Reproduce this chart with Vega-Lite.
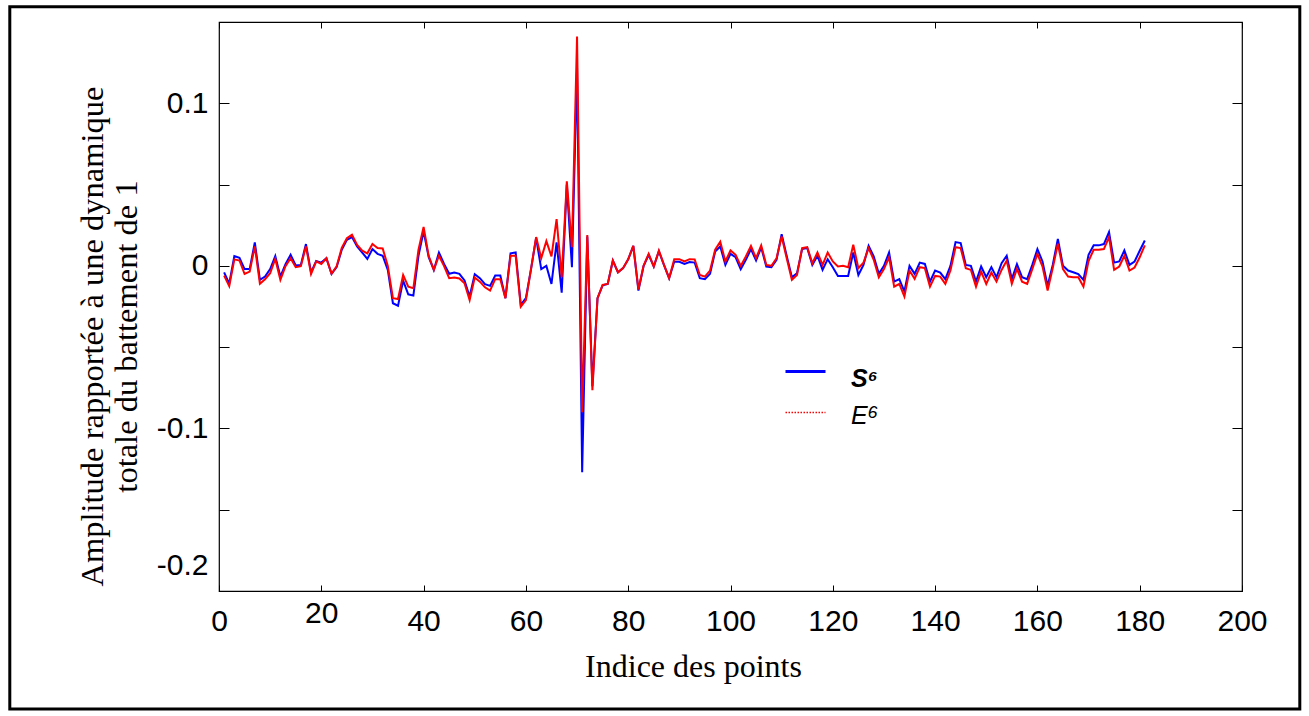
{
  "$schema": "https://vega.github.io/schema/vega-lite/v6.json",
  "width": 1023,
  "height": 569,
  "autosize": {"type": "none"},
  "padding": {"left": 219, "top": 22, "right": 67, "bottom": 125},
  "background": "white",
  "config": {"view": {"stroke": "black", "strokeWidth": 1.2}, "font": "Liberation Sans"},
  "data": {"values": [
    {"i":1,"S":-0.004,"E":-0.006},{"i":2,"S":-0.011,"E":-0.0125},{"i":3,"S":0.006,"E":0.004},{"i":4,"S":0.005,"E":0.0033},{"i":5,"S":-0.002,"E":-0.005},
    {"i":6,"S":-0.002,"E":-0.0035},{"i":7,"S":0.0144,"E":0.012},{"i":8,"S":-0.0086,"E":-0.011},{"i":9,"S":-0.0066,"E":-0.0082},{"i":10,"S":-0.002,"E":-0.0045},
    {"i":11,"S":0.006,"E":0.0042},{"i":12,"S":-0.0066,"E":-0.0086},{"i":13,"S":0.001,"E":-0.0002},{"i":14,"S":0.0068,"E":0.0047},{"i":15,"S":0.0002,"E":-0.0008},
    {"i":16,"S":0.0006,"E":-0.0002},{"i":17,"S":0.0134,"E":0.012},{"i":18,"S":-0.004,"E":-0.005},{"i":19,"S":0.003,"E":0.0027},{"i":20,"S":0.002,"E":0.0012},
    {"i":21,"S":0.0047,"E":0.0047},{"i":22,"S":-0.0049,"E":-0.0049},{"i":23,"S":-0.0008,"E":-0.0002},{"i":24,"S":0.0099,"E":0.011},{"i":25,"S":0.016,"E":0.017},
    {"i":26,"S":0.0177,"E":0.0191},{"i":27,"S":0.0119,"E":0.0129},{"i":28,"S":0.0082,"E":0.0093},{"i":29,"S":0.0043,"E":0.0077},{"i":30,"S":0.0103,"E":0.0134},
    {"i":31,"S":0.0074,"E":0.011},{"i":32,"S":0.0062,"E":0.0107},{"i":33,"S":-0.0025,"E":0.0},{"i":34,"S":-0.023,"E":-0.0199},{"i":35,"S":-0.0245,"E":-0.0204},
    {"i":36,"S":-0.0091,"E":-0.0056},{"i":37,"S":-0.0175,"E":-0.0128},{"i":38,"S":-0.0183,"E":-0.0138},{"i":39,"S":0.0062,"E":0.0099},{"i":40,"S":0.0212,"E":0.0239},
    {"i":41,"S":0.0053,"E":0.006},{"i":42,"S":-0.0025,"E":-0.0025},{"i":43,"S":0.0082,"E":0.0062},{"i":44,"S":0.0012,"E":-0.0002},{"i":45,"S":-0.0049,"E":-0.0076},
    {"i":46,"S":-0.0041,"E":-0.0072},{"i":47,"S":-0.0049,"E":-0.0078},{"i":48,"S":-0.009,"E":-0.0107},{"i":49,"S":-0.0189,"E":-0.021},{"i":50,"S":-0.0051,"E":-0.0072},
    {"i":51,"S":-0.0076,"E":-0.0097},{"i":52,"S":-0.0113,"E":-0.0132},{"i":53,"S":-0.0123,"E":-0.0152},{"i":54,"S":-0.006,"E":-0.0082},{"i":55,"S":-0.006,"E":-0.0082},
    {"i":56,"S":-0.0199,"E":-0.0199},{"i":57,"S":0.0077,"E":0.0062},{"i":58,"S":0.0082,"E":0.0062},{"i":59,"S":-0.024,"E":-0.0251},{"i":60,"S":-0.0199,"E":-0.021},
    {"i":61,"S":-0.002,"E":-0.002},{"i":62,"S":0.0172,"E":0.0177},{"i":63,"S":-0.002,"E":0.0047},{"i":64,"S":0.0,"E":0.0152},{"i":65,"S":-0.0111,"E":0.0058},
    {"i":66,"S":0.0144,"E":0.0288},{"i":67,"S":-0.0165,"E":-0.007},{"i":68,"S":0.05,"E":0.052},{"i":69,"S":-0.0008,"E":0.0115},{"i":70,"S":0.122,"E":0.141},
    {"i":71,"S":-0.127,"E":-0.09},{"i":72,"S":0.018,"E":0.019},{"i":73,"S":-0.074,"E":-0.0765},{"i":74,"S":-0.0199,"E":-0.0199},{"i":75,"S":-0.012,"E":-0.0117},
    {"i":76,"S":-0.0111,"E":-0.0111},{"i":77,"S":0.0033,"E":0.0033},{"i":78,"S":-0.004,"E":-0.004},{"i":79,"S":-0.0014,"E":-0.0014},{"i":80,"S":0.004,"E":0.004},
    {"i":81,"S":0.0123,"E":0.0123},{"i":82,"S":-0.0152,"E":-0.0145},{"i":83,"S":-0.0002,"E":0.0},{"i":84,"S":0.0068,"E":0.0074},{"i":85,"S":-0.0004,"E":-0.0004},
    {"i":86,"S":0.009,"E":0.0094},{"i":87,"S":0.0004,"E":0.0006},{"i":88,"S":-0.0076,"E":-0.0076},{"i":89,"S":0.0025,"E":0.0041},{"i":90,"S":0.0025,"E":0.0041},
    {"i":91,"S":0.0012,"E":0.0027},{"i":92,"S":0.0023,"E":0.0041},{"i":93,"S":0.002,"E":0.004},{"i":94,"S":-0.0076,"E":-0.0056},{"i":95,"S":-0.0082,"E":-0.0066},
    {"i":96,"S":-0.0049,"E":-0.0029},{"i":97,"S":0.0088,"E":0.0099},{"i":98,"S":0.0119,"E":0.0148},{"i":99,"S":0.0006,"E":0.0027},{"i":100,"S":0.0074,"E":0.0095},
    {"i":101,"S":0.0053,"E":0.0068},{"i":102,"S":-0.002,"E":0.0},{"i":103,"S":0.0037,"E":0.0058},{"i":104,"S":0.0103,"E":0.0123},{"i":105,"S":0.0033,"E":0.0047},
    {"i":106,"S":0.0113,"E":0.0126},{"i":107,"S":-0.0004,"E":0.0006},{"i":108,"S":-0.0008,"E":0.0},{"i":109,"S":0.0037,"E":0.0047},{"i":110,"S":0.0195,"E":0.0181},
    {"i":111,"S":0.006,"E":0.0045},{"i":112,"S":-0.007,"E":-0.0086},{"i":113,"S":-0.0045,"E":-0.0056},{"i":114,"S":0.0103,"E":0.0109},{"i":115,"S":0.011,"E":0.0115},
    {"i":116,"S":0.0006,"E":0.0016},{"i":117,"S":0.0062,"E":0.0082},{"i":118,"S":-0.0025,"E":0.0006},{"i":119,"S":0.0041,"E":0.0082},{"i":120,"S":-0.0008,"E":0.0027},
    {"i":121,"S":-0.0062,"E":-0.0004},{"i":122,"S":-0.0062,"E":0.0},{"i":123,"S":-0.0062,"E":-0.0008},{"i":124,"S":0.0082,"E":0.013},{"i":125,"S":-0.0056,"E":-0.0014},
    {"i":126,"S":0.0006,"E":0.002},{"i":127,"S":0.0123,"E":0.0109},{"i":128,"S":0.0058,"E":0.0037},{"i":129,"S":-0.0049,"E":-0.007},{"i":130,"S":0.0,"E":-0.002},
    {"i":131,"S":0.0082,"E":0.0053},{"i":132,"S":-0.0097,"E":-0.0128},{"i":133,"S":-0.0082,"E":-0.0111},{"i":134,"S":-0.0158,"E":-0.0189},{"i":135,"S":0.0,"E":-0.0029},
    {"i":136,"S":-0.0049,"E":-0.008},{"i":137,"S":0.002,"E":-0.0008},{"i":138,"S":0.0012,"E":-0.0014},{"i":139,"S":-0.0097,"E":-0.0128},{"i":140,"S":-0.0029,"E":-0.0062},
    {"i":141,"S":-0.0041,"E":-0.0066},{"i":142,"S":-0.0082,"E":-0.0111},{"i":143,"S":0.0,"E":-0.0029},{"i":144,"S":0.0146,"E":0.0115},{"i":145,"S":0.014,"E":0.0109},
    {"i":146,"S":0.0006,"E":-0.0014},{"i":147,"S":0.0,"E":-0.0025},{"i":148,"S":-0.0097,"E":-0.0128},{"i":149,"S":-0.0004,"E":-0.0035},{"i":150,"S":-0.007,"E":-0.0111},
    {"i":151,"S":-0.0008,"E":-0.0041},{"i":152,"S":-0.007,"E":-0.0097},{"i":153,"S":0.0016,"E":-0.0025},{"i":154,"S":0.0062,"E":0.0033},{"i":155,"S":-0.0082,"E":-0.0111},
    {"i":156,"S":0.001,"E":-0.0019},{"i":157,"S":-0.007,"E":-0.0097},{"i":158,"S":-0.0082,"E":-0.0111},{"i":159,"S":0.0006,"E":-0.002},{"i":160,"S":0.0103,"E":0.0074},
    {"i":161,"S":0.0027,"E":-0.0004},{"i":162,"S":-0.0123,"E":-0.0152},{"i":163,"S":0.0006,"E":-0.0014},{"i":164,"S":0.0165,"E":0.0136},{"i":165,"S":0.0,"E":-0.002},
    {"i":166,"S":-0.0029,"E":-0.0066},{"i":167,"S":-0.0039,"E":-0.007},{"i":168,"S":-0.0051,"E":-0.007},{"i":169,"S":-0.0086,"E":-0.0128},{"i":170,"S":0.0068,"E":0.003},
    {"i":171,"S":0.0126,"E":0.0099},{"i":172,"S":0.0126,"E":0.0099},{"i":173,"S":0.0134,"E":0.0103},{"i":174,"S":0.0208,"E":0.0177},{"i":175,"S":0.002,"E":-0.0025},
    {"i":176,"S":0.0027,"E":-0.0004},{"i":177,"S":0.0095,"E":0.0062},{"i":178,"S":0.0006,"E":-0.0029},{"i":179,"S":0.0027,"E":-0.001},{"i":180,"S":0.0093,"E":0.0053},
    {"i":181,"S":0.0156,"E":0.0126}
  ]},
  "layer": [
    {
      "data": {"values": [{}]},
      "mark": {"type": "rect", "filled": false, "stroke": "black", "strokeWidth": 3, "clip": false},
      "encoding": {
        "x": {"datum": -40.9, "type": "quantitative", "scale": {"domain": [0, 200], "nice": false, "zero": false}, "axis": null},
        "x2": {"datum": 211.3},
        "y": {"datum": 0.1594, "type": "quantitative", "scale": {"domain": [-0.2, 0.15], "nice": false, "zero": false}, "axis": null},
        "y2": {"datum": -0.2726}
      }
    },
    {
      "mark": {"type": "line", "strokeWidth": 2},
      "encoding": {
        "x": {"field": "i", "type": "quantitative",
          "axis": {"orient": "bottom", "values": [0,20,40,60,80,100,120,140,160,180,200], "domain": false, "grid": false,
            "tickSize": -6, "tickColor": "black", "tickWidth": 1,
            "labelFont": "Liberation Sans", "labelFontSize": 30, "labelColor": "black", "labelPadding": {"expr": "datum.value == 20 ? 13 : 21"}, "labelFlush": false, "labelOverlap": false,
            "title": "Indice des points", "titleFont": "Liberation Serif", "titleFontSize": 32, "titleFontWeight": "normal", "titleColor": "black",
            "titleX": 474, "titleY": 85, "titleBaseline": "alphabetic", "titleAlign": "center"}},
        "y": {"field": "S", "type": "quantitative",
          "axis": {"orient": "left", "values": [-0.2,-0.15,-0.1,-0.05,0,0.05,0.1,0.15], "domain": false, "grid": false,
            "tickSize": -10, "tickColor": "black", "tickWidth": 1,
            "labelFont": "Liberation Sans", "labelFontSize": 30, "labelColor": "black", "labelPadding": 21, "labelFlush": false, "labelOverlap": false,
            "labelOffset": {"expr": "datum.value < -0.19 ? -26 : 0"},
            "labelExpr": "abs(datum.value*10 - round(datum.value*10)) < 0.001 ? toString(round(datum.value*10)/10) : ''",
            "title": ["Amplitude rapportée à une dynamique", "totale du battement de 1"],
            "titleFont": "Liberation Serif", "titleFontSize": 32.5, "titleFontWeight": "normal", "titleColor": "black",
            "titleAngle": -90, "titleX": -127, "titleY": 314, "titleAlign": "center", "titleBaseline": "middle", "titleLineHeight": 34}},
        "color": {"datum": "S⁶", "type": "nominal",
          "scale": {"domain": ["S⁶", "E⁶"], "range": ["#0000ff", "#ff0000"]},
          "legend": {"orient": "none", "legendX": 574, "legendY": 337, "title": null, "symbolType": "stroke", "symbolSize": 1600, "symbolStrokeWidth": 3,
            "labelFont": "Liberation Sans", "labelFontSize": 25, "labelFontStyle": "italic", "labelColor": "black", "labelOffset": 33, "rowPadding": 8,
            "encode": {
              "labels": {"update": {"fontWeight": {"signal": "datum.value === 'S⁶' ? 'bold' : 'normal'"}, "dy": {"signal": "datum.value === 'S⁶' ? 7 : 3"}}},
              "symbols": {"update": {"strokeDash": {"signal": "datum.value === 'E⁶' ? [1.5, 1.5] : [1, 0]"}, "strokeWidth": {"signal": "datum.value === 'E⁶' ? 1.5 : 3"}}}
            }}}
      }
    },
    {
      "mark": {"type": "line", "strokeWidth": 2},
      "encoding": {
        "x": {"field": "i", "type": "quantitative",
          "axis": {"orient": "top", "values": [0,20,40,60,80,100,120,140,160,180,200], "domain": false, "grid": false, "labels": false, "title": null,
            "tickSize": -6, "tickColor": "black", "tickWidth": 1}},
        "y": {"field": "E", "type": "quantitative",
          "axis": {"orient": "right", "values": [-0.2,-0.15,-0.1,-0.05,0,0.05,0.1,0.15], "domain": false, "grid": false, "labels": false, "title": null,
            "tickSize": -10, "tickColor": "black", "tickWidth": 1}},
        "color": {"datum": "E⁶", "type": "nominal"}
      }
    }
  ],
  "resolve": {"axis": {"x": "independent", "y": "independent"}}
}
